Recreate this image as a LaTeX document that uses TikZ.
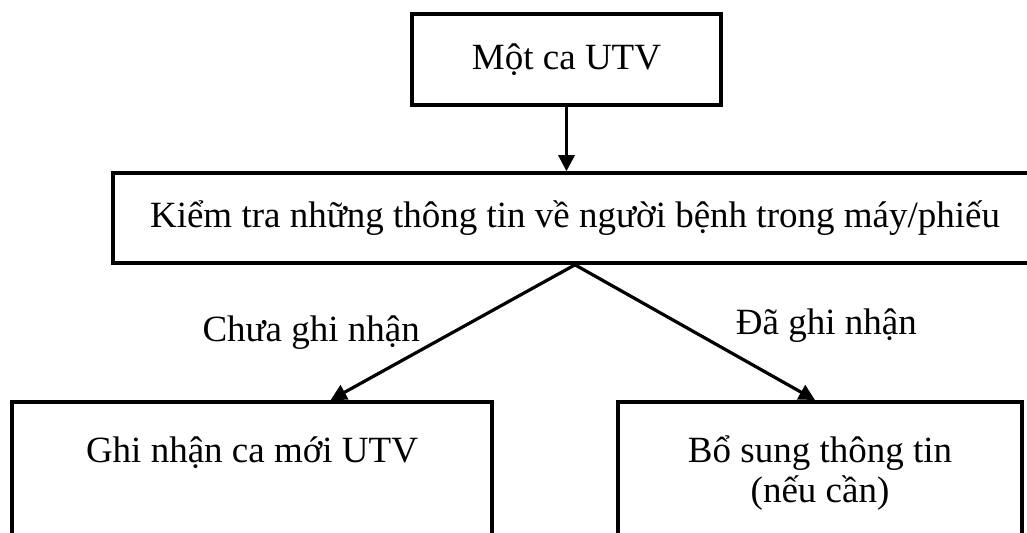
\documentclass[tikz,border=0pt]{standalone}
\usepackage{fontspec}
\setmainfont{Liberation Serif}
\usetikzlibrary{arrows.meta,calc}

\tikzset{
  box/.style={draw, line width=1.8pt, rectangle, inner sep=0pt},
  flow/.style={-{Triangle[length=8pt,width=8pt]}, line width=1.6pt},
}

\begin{document}
\begin{tikzpicture}[x=0.5pt,y=-0.5pt]

\fontsize{18.5}{20}\selectfont

\useasboundingbox (0,0) rectangle (1027,532); %% page
\clip (0,0) rectangle (1027,532);

%% boxes
\node[box, minimum width=154.5pt, minimum height=45.5pt]
  (mot) at (566.5,59.5) {Một ca UTV};
\node[box, minimum width=462pt, minimum height=45pt]
  (kiem) at (575,218) {Kiểm tra những thông tin về người bệnh trong máy/phiếu};

\node[box, minimum width=240pt, minimum height=80pt, anchor=north]
  (ghi) at (252,400) {};
\node (ghitxt) at (252,453) {Ghi nhận ca mới UTV};

\node[box, minimum width=202pt, minimum height=80pt, anchor=north]
  (bosung) at (820,400) {};
\node[align=center] (bosungtxt) at (820,473) {Bổ sung thông tin\\(nếu cần)};

%% arrows
\draw[flow] (mot.south) -- (mot.south |- kiem.north);

\draw[flow] (kiem.south) --
  node[left=9.5pt]{Chưa ghi nhận} ($(ghi.north west)!0.6625!(ghi.north east)$);
\draw[flow] (kiem.south) --
  node[right=13.5pt, yshift=3.5pt]{Đã ghi nhận} ($(bosung.north)+(-5,0)$);

\end{tikzpicture}
\end{document}
